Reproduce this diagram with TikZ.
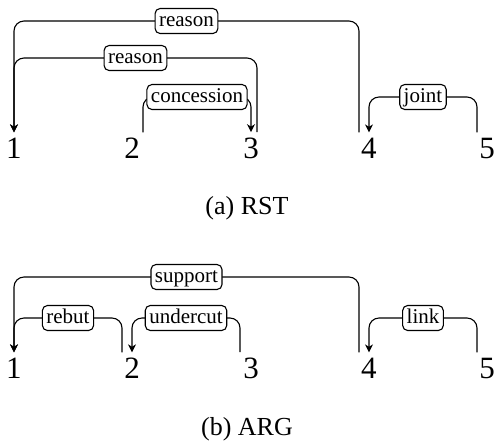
\documentclass[tikz,border=0pt]{standalone}
\usepackage{fontspec}
\setmainfont{Liberation Serif}
\usetikzlibrary{arrows.meta}

\begin{document}
\begin{tikzpicture}[x=0.5pt,y=-0.5pt,
    unit/.style={inner xsep=0pt,inner ysep=2.5pt,font=\fontsize{15.5}{18}\selectfont},
    rel/.style={draw,fill=white,rounded corners=2.5pt,inner xsep=2pt,inner ysep=1.4pt,
      text height=7.5pt,text depth=2.2pt,font=\fontsize{10.5}{12}\selectfont},
    arc/.style={line width=0.55pt,rounded corners=5pt},
    tip/.style={-{Stealth[length=4pt,width=4pt,inset=1.2pt]}}]
  \useasboundingbox (0,0) rectangle (494,441);
  % (a) RST
  \node[unit] (a1) at (14,148) {1};
  \node[unit] (a2) at (132,148) {2};
  \node[unit] (a3) at (251,148) {3};
  \node[unit] (a4) at (369,148) {4};
  \node[unit] (a5) at (487,148) {5};
  \draw[arc,tip] ([xshift=-5pt]a4.north) |- (a1.north |- 0,21) node[rel,pos=0.75] {reason} -- (a1.north);
  \draw[arc,tip] ([xshift=3pt]a3.north) |- (a1.north |- 0,58) node[rel,pos=0.75] {reason} -- (a1.north);
  \draw[arc,tip] ([xshift=5.5pt]a2.north) |- (a3.north |- 0,97) node[rel,pos=0.75] {concession} -- (a3.north);
  \draw[arc,tip] ([xshift=-5pt]a5.north) |- (a4.north |- 0,97) node[rel,pos=0.75] {joint} -- (a4.north);
  \node[font=\fontsize{13}{15}\selectfont] (capa) at (247,208) {(a) RST};
  % (b) ARG
  \node[unit] (b1) at (14,368) {1};
  \node[unit] (b2) at (132,368) {2};
  \node[unit] (b3) at (251,368) {3};
  \node[unit] (b4) at (369,368) {4};
  \node[unit] (b5) at (487,368) {5};
  \draw[arc,tip] ([xshift=-5pt]b4.north) |- (b1.north |- 0,277) node[rel,pos=0.75] {support} -- (b1.north);
  \draw[arc,tip] ([xshift=-5pt]b2.north) |- (b1.north |- 0,318) node[rel,pos=0.75] {rebut} -- (b1.north);
  \draw[arc,tip] ([xshift=-5.5pt]b3.north) |- (b2.north |- 0,318) node[rel,pos=0.75] {undercut} -- (b2.north);
  \draw[arc,tip] ([xshift=-5pt]b5.north) |- (b4.north |- 0,318) node[rel,pos=0.75] {link} -- (b4.north);
  \node[font=\fontsize{13}{15}\selectfont] (capb) at (247,429) {(b) ARG};
\end{tikzpicture}
\end{document}
